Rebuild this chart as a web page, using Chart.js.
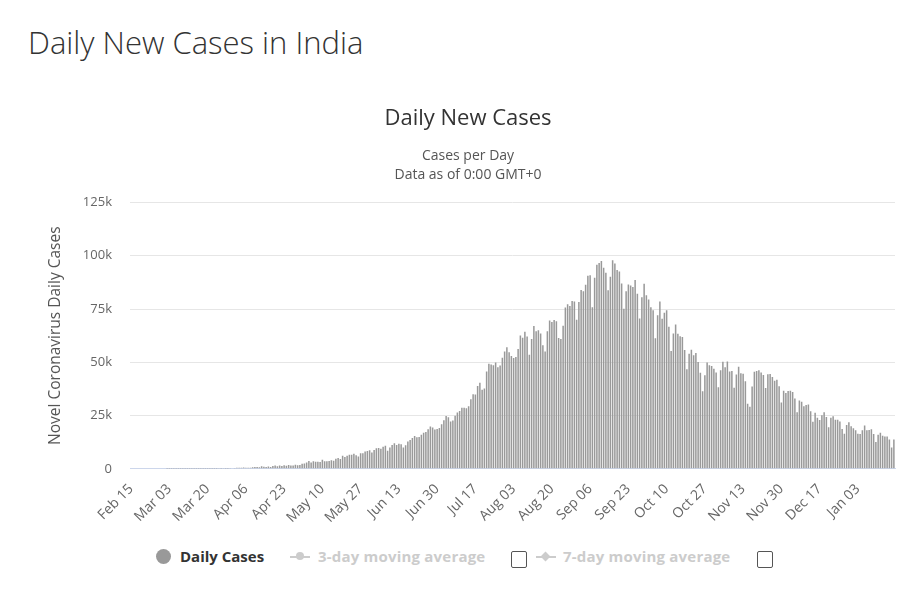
<!DOCTYPE html>
<html>
<head>
<meta charset="utf-8">
<title>Daily New Cases in India</title>
<script src="https://cdn.jsdelivr.net/npm/chart.js@4.4.0/dist/chart.umd.min.js"></script>
<style>
  body { margin: 0; background: #fff; font-family: "Open Sans", sans-serif; }
  #page { position: relative; width: 908px; height: 593px; overflow: hidden; }
  h1 { position: absolute; left: 28px; top: 21px; margin: 0; font-size: 31px; font-weight: 300; color: #333; white-space: nowrap; }
  #wrap { position: absolute; left: 0; top: 91px; width: 908px; height: 439px; }
  .lg { position: absolute; top: 546px; font-size: 15px; font-weight: bold; white-space: nowrap; line-height: 21px; }
  .dot { position: absolute; top: 549px; left: 156px; width: 15px; height: 15px; border-radius: 50%; background: #999; }
  .mark { position: absolute; top: 556px; width: 20px; height: 2px; background: #ccc; }
  .mark i { position: absolute; left: 6px; top: -4px; width: 8px; height: 8px; border-radius: 50%; background: #ccc; }
  .mark i.d { border-radius: 0; transform: rotate(45deg); width: 7px; height: 7px; left: 6px; top: -3px; }
  .box { position: absolute; top: 551px; width: 14px; height: 15px; border: 1px solid #555; border-radius: 2px; background: #fff; }
</style>
</head>
<body>
<div id="page">
  <h1>Daily New Cases in India</h1>
  <div id="wrap"><canvas id="chart" width="908" height="439"></canvas></div>
  <div class="dot"></div>
  <div class="lg" style="left:180px;color:#333">Daily Cases</div>
  <div class="mark" style="left:290px"><i></i></div>
  <div class="lg" style="left:318px;color:#ccc;letter-spacing:0.2px">3-day moving average</div>
  <div class="box" style="left:511px"></div>
  <div class="mark" style="left:536px"><i class="d"></i></div>
  <div class="lg" style="left:563px;color:#ccc;letter-spacing:0.2px">7-day moving average</div>
  <div class="box" style="left:757px"></div>
</div>
<script>
// daily new cases, one array per month (Feb 15 2020 -> Jan 19 2021)
const feb2020 = [0,0,0,0,0,0,0,0,0,0,0,0,0,0,0];
const mar2020 = [0,2,1,22,2,1,3,5,9,15,8,13,6,24,27,15,22,11,30,58,76,69,103,37,121,70,160,100,106,227,303];
const apr2020 = [437,486,560,579,609,484,573,565,813,871,854,758,1243,1031,886,1061,922,1371,1580,1239,1537,1292,1667,1408,1835,1607,1568,1902,1705,1801];
const may2020 = [2396,2564,2952,3656,2971,3602,3344,3339,3175,4311,3592,3562,3726,3991,3808,4794,5050,4628,6147,5553,6198,6568,6629,7111,6414,5843,7293,7300,8105,8336,8782];
const jun2020 = [7723,8812,9689,9849,9472,10408,10882,8536,9981,11156,12023,11157,11767,11505,10032,11086,12881,13586,14516,15413,14821,14933,15968,16922,17296,18552,19906,19459,18522,18653];
const jul2020 = [19148,20903,22771,24850,24248,22252,22752,24879,26506,27114,28637,28701,28498,29429,32695,34956,34884,38902,40425,37148,37724,45720,49310,48916,48661,49931,47704,48513,52123,55079,57118];
const aug2020 = [54735,52972,52050,52509,56282,62538,61537,64399,62064,53601,60963,66999,64553,65002,63490,57981,55079,64531,69652,68898,69878,69239,61408,60975,67151,75760,77266,76472,78761,78512,69921];
const sep2020 = [78357,83883,83341,86432,90632,90802,75809,89706,95735,96551,97570,94372,92071,83809,90123,97894,96424,93337,92605,86961,75083,83347,86508,86052,85362,88600,82170,70589,80472,86821];
const oct2020 = [81484,79476,75829,74442,61267,72049,78524,70496,73272,74383,66732,55342,63509,67708,63371,62212,61871,55722,46790,54044,55839,53370,54366,50129,45149,36470,43893,49881,48648,48268,46963];
const nov2020 = [45231,38310,46253,50210,47638,50357,45674,45903,38074,44281,47905,44879,44684,41100,30548,29164,38617,45576,45882,46232,45209,44059,37975,44376,44489,43082,41322,41810,38772,31118];
const dec2020 = [36604,35551,36595,36652,36011,32981,26567,32080,31521,29398,30006,30254,27071,22065,26382,24010,22890,25152,26624,24337,19556,23950,24712,23067,23068,22273,18732,16432,20550,21822,20035];
const jan2021 = [19078,18177,16504,16375,18088,20346,18139,18222,18645,16311,12584,15968,16946,15590,15158,15144,13788,10064,13823];

const dailyCases = [].concat(feb2020, mar2020, apr2020, may2020, jun2020, jul2020, aug2020, sep2020, oct2020, nov2020, dec2020, jan2021);

const tickLabels = ['Feb 15','Mar 03','Mar 20','Apr 06','Apr 23','May 10','May 27','Jun 13','Jun 30','Jul 17',
                    'Aug 03','Aug 20','Sep 06','Sep 23','Oct 10','Oct 27','Nov 13','Nov 30','Dec 17','Jan 03'];
const tickEvery = 17;
const yTicks = [0, 25000, 50000, 75000, 100000, 125000];

const monthNames = ['Jan','Feb','Mar','Apr','May','Jun','Jul','Aug','Sep','Oct','Nov','Dec'];
const days = dailyCases.map(function(v, i) {
  const d = new Date(2020, 1, 15 + i);
  return monthNames[d.getMonth()] + ' ' + String(d.getDate()).padStart(2, '0');
});

const fam = '"Open Sans", sans-serif';

new Chart(document.getElementById('chart'), {
  type: 'bar',
  data: {
    labels: days,
    datasets: [{
      label: 'Daily Cases',
      data: dailyCases,
      backgroundColor: '#999',
      barPercentage: 0.8,
      categoryPercentage: 0.85
    }]
  },
  options: {
    responsive: false,
    animation: false,
    layout: { padding: { left: 41, right: 13, top: 0, bottom: 0 } },
    plugins: {
      legend: { display: false },
      tooltip: { enabled: false },
      title: {
        display: true, text: 'Daily New Cases', color: '#333',
        font: { family: fam, size: 22, weight: 'normal' },
        padding: { top: 15, bottom: 14 }
      },
      subtitle: {
        display: true, text: ['Cases per Day', 'Data as of 0:00 GMT+0'], color: '#555',
        font: { family: fam, size: 14, lineHeight: 1.36 },
        padding: { top: 0, bottom: 18 }
      }
    },
    scales: {
      x: {
        grid: { display: false },
        border: { display: true, color: '#ccd6eb' },
        ticks: {
          autoSkip: false, maxRotation: 45, minRotation: 45,
          color: '#666', font: { family: fam, size: 14 }, padding: 4,
          callback: function(v, i) { return i % tickEvery === 0 ? tickLabels[i / tickEvery] : null; }
        }
      },
      y: {
        min: 0, max: 125000,
        border: { display: false },
        grid: { color: '#e6e6e6', drawTicks: false },
        afterBuildTicks: function(s) { s.ticks = yTicks.map(function(v) { return { value: v }; }); },
        afterFit: function(s) { s.width = 89; },
        ticks: {
          color: '#666', font: { family: fam, size: 13 }, padding: 18,
          callback: function(v) { return v === 0 ? '0' : (v / 1000) + 'k'; }
        },
        title: {
          display: true, text: 'Novel Coronavirus Daily Cases', color: '#555',
          font: { family: fam, size: 15.5 }, padding: { top: 5, bottom: 0 }
        }
      }
    }
  }
});
</script>
</body>
</html>
